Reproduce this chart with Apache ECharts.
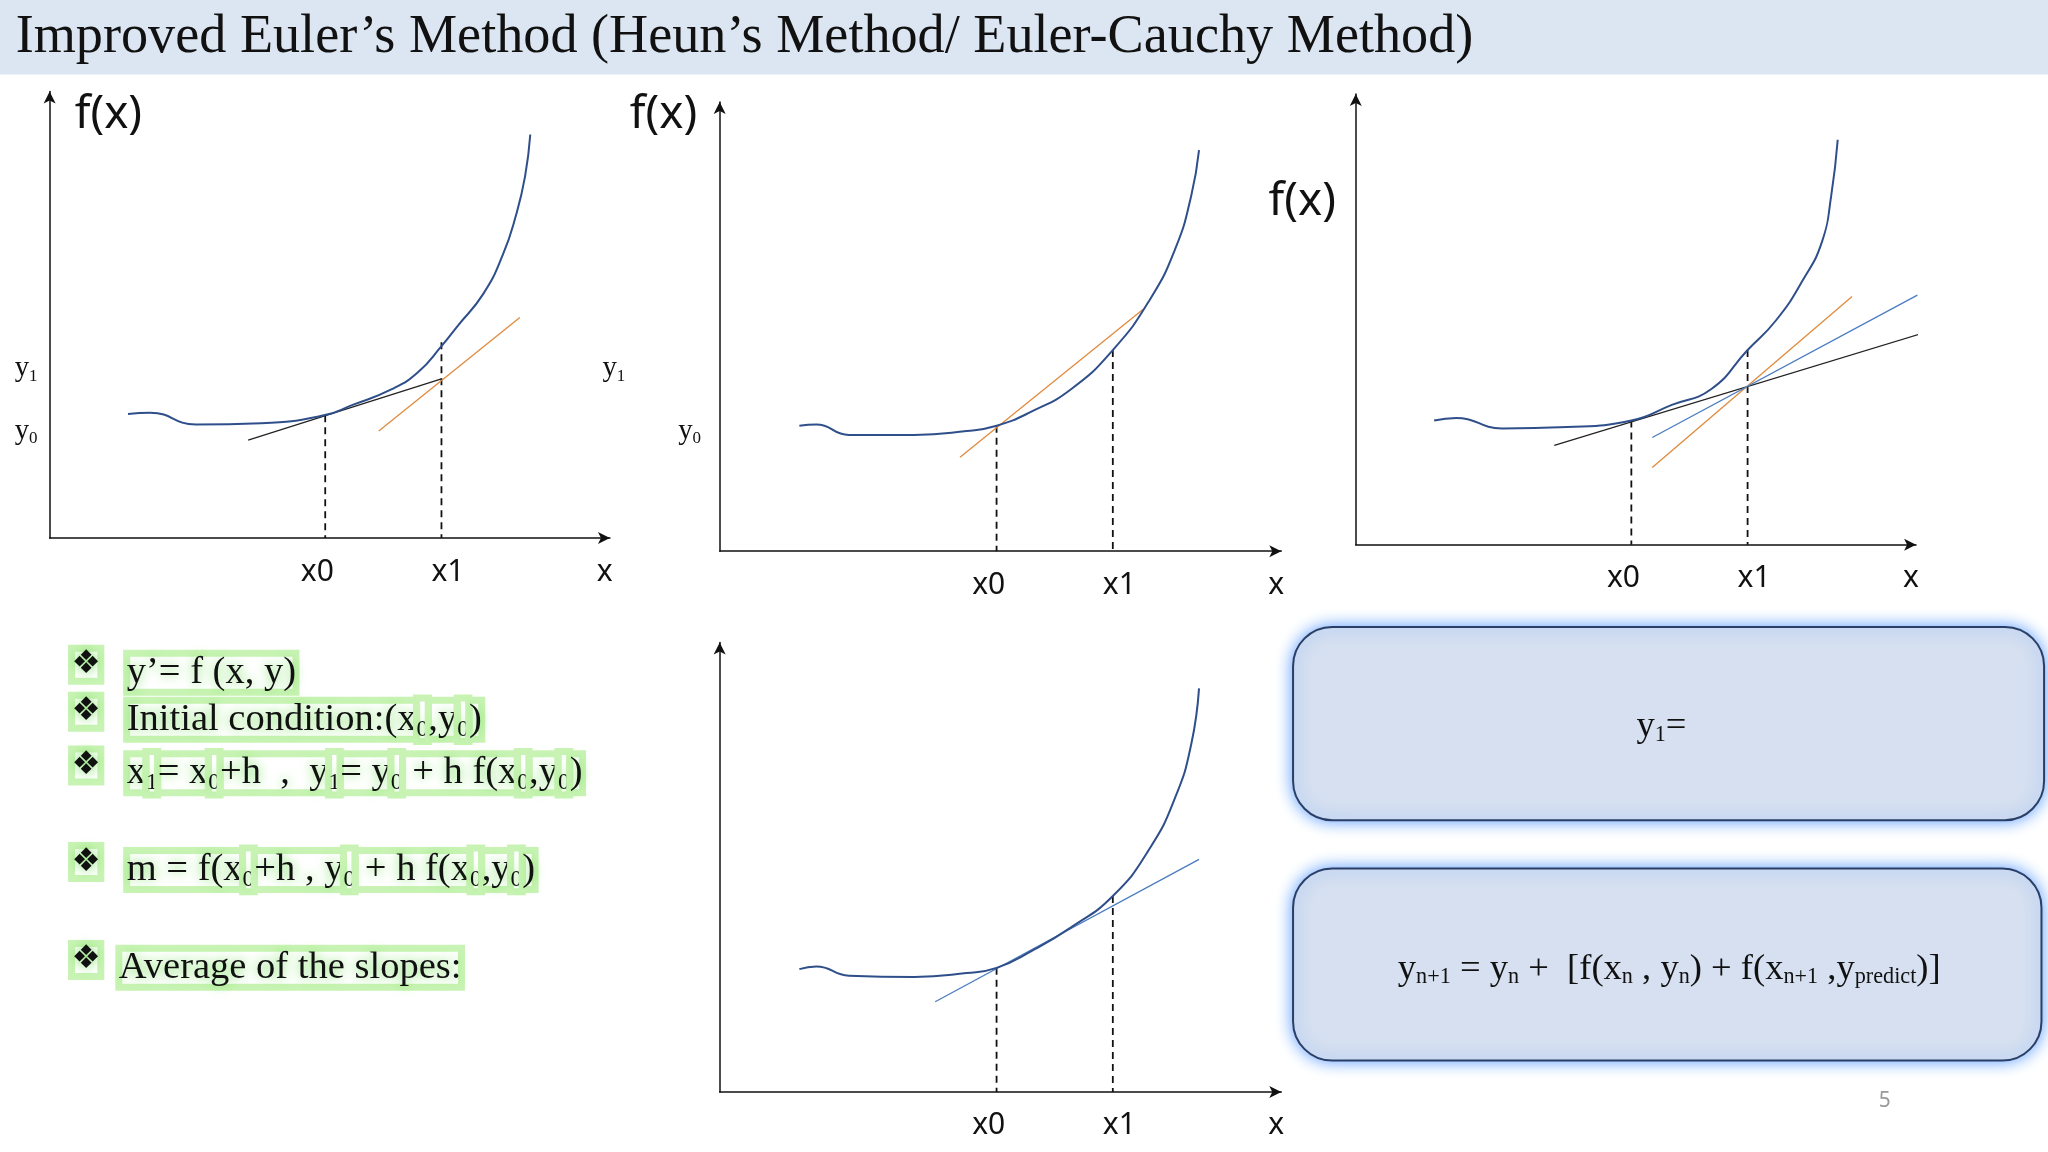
<!DOCTYPE html>
<html><head><meta charset="utf-8">
<script src="https://cdn.jsdelivr.net/npm/echarts@6/dist/echarts.min.js"></script>
<style>html,body{margin:0;padding:0;background:#fff}#c{width:2048px;height:1152px}</style>
</head><body><div id="c"></div>
<script>
const S = 2048/1568;
// panel axes: [originX, originY, topY, endX] in slide coordinates
const panelAxes = [[38,412,70,467],[551,422,78,981],[1038,417,72,1467],[551,836,492,981]];
const curve1 = [[98,317],[115,316],[150,325],[200,324],[248,318],[270,310],[300,298],[320,285],[338,265],[350,250],[370,225],[385,195],[395,165],[402,135],[406,103]];
const curve2 = [[612,326],[625,325],[650,333],[700,333],[740,330],[763,326],[790,315],[820,298],[852,268],[880,230],[900,190],[912,150],[918,115]];
const curve3 = [[1098,322],[1115,320],[1150,328],[1200,327],[1249,322],[1280,310],[1310,298],[1338,268],[1360,245],[1380,215],[1395,185],[1402,150],[1407,107]];
const curve4 = [[612,742],[625,740],[650,747],[700,748],[740,745],[763,741],[790,728],[820,710],[852,686],[880,650],[900,610],[912,570],[918,527]];
const curves = [curve1, curve2, curve3, curve4];
// tangent lines: [panel, color, [x1,y1],[x2,y2]]
const tangents = [
 [0,'#222',[190,337],[338,290]],
 [0,'#e08a3c',[290,330],[398,243]],
 [1,'#e08a3c',[735,350],[875,237]],
 [2,'#222',[1190,341],[1492,249]],
 [2,'#e08a3c',[1265,358],[1418,227]],
 [2,'#4a7cc0',[1265,335],[1468,226]],
 [3,'#4a7cc0',[716,767],[918,658]]
];
// dashed verticals: [panel, x, yTop]
const dashes = [[0,249,318],[0,338,262],[1,763,326],[1,852,268],[2,1249,322],[2,1338,268],[3,763,741],[3,852,686]];

const grids=[],xAxes=[],yAxes=[],series=[];
panelAxes.forEach((p,i)=>{
  const [ox,oy,ty,ex]=p;
  grids.push({left:ox*S,top:ty*S,width:(ex-ox)*S,height:(oy-ty)*S});
  const ax={show:true,axisLine:{show:true,onZero:false,symbol:['none','arrow'],symbolSize:[9,12],lineStyle:{color:'#111',width:1.5}},axisTick:{show:false},axisLabel:{show:false},splitLine:{show:false}};
  xAxes.push(Object.assign({type:'value',gridIndex:i,min:0,max:ex-ox},JSON.parse(JSON.stringify(ax))));
  yAxes.push(Object.assign({type:'value',gridIndex:i,min:0,max:oy-ty},JSON.parse(JSON.stringify(ax))));
});
const tr=(i,pt)=>[pt[0]-panelAxes[i][0], panelAxes[i][1]-pt[1]];
curves.forEach((c,i)=>series.push({type:'line',xAxisIndex:i,yAxisIndex:i,data:c.map(p=>tr(i,p)),smooth:true,symbol:'none',lineStyle:{color:'#2f4f8a',width:2},clip:false,z:3}));
tangents.forEach(t=>series.push({type:'line',xAxisIndex:t[0],yAxisIndex:t[0],data:[tr(t[0],t[2]),tr(t[0],t[3])],symbol:'none',lineStyle:{color:t[1],width:1.3},clip:false,z:2}));
dashes.forEach(d=>series.push({type:'line',xAxisIndex:d[0],yAxisIndex:d[0],data:[tr(d[0],[d[1],d[2]]),tr(d[0],[d[1],panelAxes[d[0]][1]])],symbol:'none',lineStyle:{color:'#111',width:1.8,type:[7,5]},z:1}));

const sans='"Noto Sans", sans-serif', serif='"Liberation Serif", serif';
const labels=[
 ['f(x)',83,88,35],['x0',243,438,23],['x1',343,438,23],['x',463,438,23],
 ['f(x)',508,88,35],['x0',757,448,23],['x1',857,448,23],['x',977,448,23],
 ['f(x)',997,155,35],['x0',1243,443,23],['x1',1343,443,23],['x',1463,443,23],
 ['x0',757,862,23],['x1',857,862,23],['x',977,862,23]
];
const graphic=[
 {type:'rect',shape:{x:0,y:0,width:2048,height:57*S},style:{fill:'#dce6f2'},z:0},
 {type:'text',style:{text:'Improved Euler’s Method (Heun’s Method/ Euler-Cauchy Method)',x:12*S,y:29*S,font:`${41.5*S}px ${serif}`,fill:'#111',textVerticalAlign:'middle'}},
 {type:'text',style:{text:'5',x:1443*S,y:843*S,font:`${16*S}px ${sans}`,fill:'#999',textAlign:'center',textVerticalAlign:'middle'}}
];
labels.forEach(l=>graphic.push({type:'text',style:{text:l[0],x:l[1]*S,y:l[2]*S,font:`${l[3]*S}px ${sans}`,fill:'#111',textAlign:'center',textVerticalAlign:'middle'}}));
const sub=(base,s,x,y)=>({type:'text',style:{rich:{a:{fontFamily:serif,fontSize:22*S,fill:'#111'},s:{fontFamily:serif,fontSize:13*S,fill:'#111',padding:[12*S,0,0,0]}},text:`{a|${base}}{s|${s}}`,x:x*S,y:y*S,textAlign:'center',textVerticalAlign:'middle'}});
graphic.push(sub('y','1',20,282),sub('y','0',20,330),sub('y','1',470,282),sub('y','0',528,330));
// bullets
const glow={textBorderColor:'#c8f3b4',textBorderWidth:7,textShadowColor:'#6fdc55',textShadowBlur:12};
const R=Object.assign({fontFamily:serif,fontSize:29.5*S,fill:'#111'},glow);
const Rs=Object.assign({},R,{fontSize:18*S,padding:[15*S,0,0,0]});
const bullets=[
 ['y’= f (x, y)',515],
 ['Initial condition:(x{s|0},y{s|0})',551],
 ['x{s|1}= x{s|0}+h  ,  y{s|1}= y{s|0} + h f(x{s|0},y{s|0})',592],
 ['m = f(x{s|0}+h , y{s|0} + h f(x{s|0},y{s|0})',666],
 ['Average of the slopes:',741]
];
bullets.forEach((b,i)=>{
  graphic.push({type:'text',style:Object.assign({text:'❖',x:66*S,y:(b[1]-6)*S,font:`${25*S}px "DejaVu Sans"`,fill:'#111',textAlign:'center',textVerticalAlign:'middle'},glow)});
  const t=b[0].replace(/(^|\})([^{}]+?)(?=\{|$)/g,(m,p,q)=>p+'{a|'+q+'}');
  graphic.push({type:'text',style:{rich:{a:R,s:Rs},text:t,x:(i==4?91:97)*S,y:b[1]*S,textVerticalAlign:'middle'}});
});
// boxes
[[990,480,575,148],[990,665,573,147]].forEach(b=>graphic.push({type:'rect',shape:{x:b[0]*S,y:b[1]*S,width:b[2]*S,height:b[3]*S,r:30*S},style:{fill:'#d6e0f0',stroke:'#2a3f66',lineWidth:2,shadowColor:'#5b9bff',shadowBlur:16}}));
const Bs={fontFamily:serif,fontSize:28*S,fill:'#111'}, Bsub=Object.assign({},Bs,{fontSize:17*S,padding:[13*S,0,0,0]});
graphic.push({type:'text',style:{rich:{a:Bs,s:Bsub},text:'{a|y}{s|1}{a|=}',x:1272*S,y:556*S,textAlign:'center',textVerticalAlign:'middle'}});
graphic.push({type:'text',style:{rich:{a:Bs,s:Bsub},text:'{a|y}{s|n+1}{a| = y}{s|n}{a| +  [f(x}{s|n}{a| , y}{s|n}{a|) + f(x}{s|n+1}{a| ,y}{s|predict}{a|)]}',x:1278*S,y:742*S,textAlign:'center',textVerticalAlign:'middle'}});

const chart=echarts.init(document.getElementById('c'));
chart.setOption({animation:false,grid:grids,xAxis:xAxes,yAxis:yAxes,series,graphic});
</script></body></html>
